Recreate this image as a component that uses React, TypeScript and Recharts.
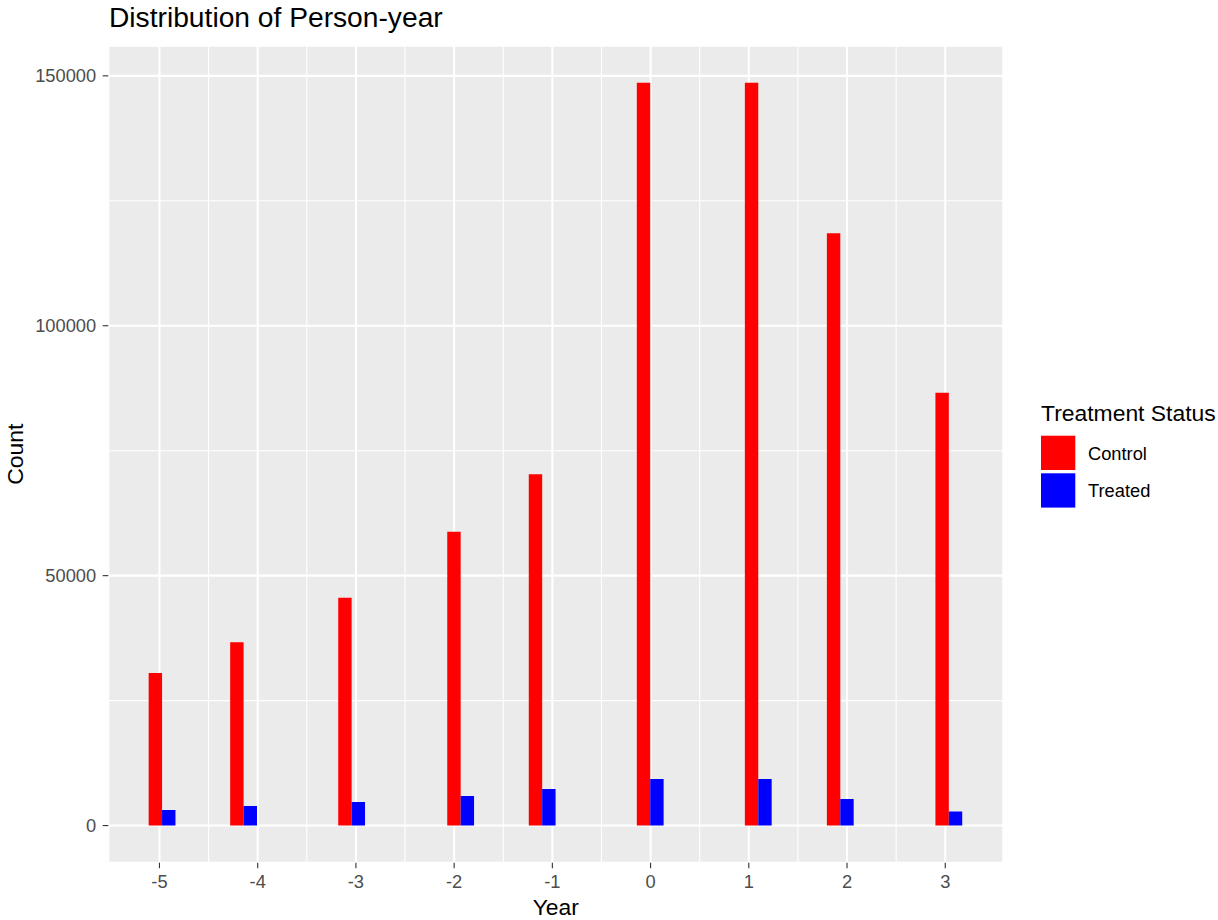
import React from 'react';
import { BarChart, Bar, XAxis, YAxis, CartesianGrid } from 'recharts';

// Year positions (bar group centres as drawn on the continuous Year axis)
const yearPositions = [-4.97, -4.14, -3.04, -1.93, -1.1, 0, 1.1, 1.935, 3.04];
const controlCounts = [30500, 36700, 45600, 58800, 70300, 148600, 148600, 118500, 86600];
const treatedCounts = [3100, 3900, 4700, 5900, 7300, 9300, 9300, 5300, 2800];

const xTicks = [-5, -4, -3, -2, -1, 0, 1, 2, 3];
const yTicks = [0, 50000, 100000, 150000];
const xMinorBreaks = [-4.5, -3.5, -2.5, -1.5, -0.5, 0.5, 1.5, 2.5];
const yMinorBreaks = [25000, 75000, 125000];

const xDomain: [number, number] = [-5.521, 3.591];
const yDomain: [number, number] = [-7430, 156030];

const seriesNames = ['Control', 'Treated'];
const seriesColors = ['#FF0000', '#0000FF'];

const data = yearPositions.map((x, i) => ({
  x,
  Control: controlCounts[i],
  Treated: treatedCounts[i],
}));

const FONT = "'Liberation Sans', Arial, Helvetica, sans-serif";

function scaleOf(axis: any, domain: [number, number], start: number, length: number, invert: boolean) {
  if (axis && typeof axis.scale === 'function') return (v: number) => axis.scale(v);
  return (v: number) => {
    const t = (v - domain[0]) / (domain[1] - domain[0]);
    return invert ? start + length * (1 - t) : start + length * t;
  };
}

export default function App() {
  return (
    <div
      style={{
        position: 'absolute',
        left: 0,
        top: 0,
        width: 1218,
        height: 920,
        background: '#FFFFFF',
        fontFamily: FONT,
      }}
    >
      <BarChart
        width={1218}
        height={920}
        data={data}
        margin={{ top: 45.7, right: 214.7, bottom: 27.3, left: 8.3 }}
        barSize={13.4}
        barGap={0}
      >
        <CartesianGrid
          fill="#EBEBEB"
          fillOpacity={1}
          stroke="#FFFFFF"
          strokeWidth={1.1}
          horizontalCoordinatesGenerator={(props: any) => {
            const s = scaleOf(props.yAxis, yDomain, props.offset.top, props.offset.height, true);
            return yMinorBreaks.map((v) => s(v));
          }}
          verticalCoordinatesGenerator={(props: any) => {
            const s = scaleOf(props.xAxis, xDomain, props.offset.left, props.offset.width, false);
            return xMinorBreaks.map((v) => s(v));
          }}
        />
        <CartesianGrid stroke="#FFFFFF" strokeWidth={2.1} />
        <XAxis
          dataKey="x"
          type="number"
          domain={xDomain}
          ticks={xTicks}
          interval={0}
          allowDataOverflow
          axisLine={false}
          tickLine={{ stroke: '#333333', strokeWidth: 1.1 }}
          tickSize={5.5}
          tickMargin={6.8}
          height={30}
          tick={{ fill: '#4D4D4D', fontSize: 18.3, fontFamily: FONT }}
        />
        <YAxis
          type="number"
          domain={yDomain}
          ticks={yTicks}
          interval={0}
          allowDataOverflow
          axisLine={false}
          tickLine={{ stroke: '#333333', strokeWidth: 1.1 }}
          tickSize={5.6}
          tickMargin={6.5}
          width={100}
          tick={{ fill: '#4D4D4D', fontSize: 18.3, fontFamily: FONT }}
        />
        <Bar dataKey="Control" fill={seriesColors[0]} isAnimationActive={false} />
        <Bar dataKey="Treated" fill={seriesColors[1]} isAnimationActive={false} />
      </BarChart>
      <svg
        width={1218}
        height={920}
        style={{ position: 'absolute', left: 0, top: 0, pointerEvents: 'none' }}
      >
        <text x={109} y={26.7} fontSize={28.2} fontFamily={FONT} fill="#000000">
          Distribution of Person-year
        </text>
        <text
          transform="translate(23.3, 454.2) rotate(-90)"
          textAnchor="middle"
          fontSize={22.9}
          fontFamily={FONT}
          fill="#000000"
        >
          Count
        </text>
        <text x={555.8} y={914.5} textAnchor="middle" fontSize={22.9} fontFamily={FONT} fill="#000000">
          Year
        </text>
        <text x={1041} y={421} fontSize={22.9} fontFamily={FONT} fill="#000000">
          Treatment Status
        </text>
        {seriesNames.map((name, i) => (
          <g key={name}>
            <rect x={1041} y={435.7 + i * 37.6} width={34.3} height={34.3} fill={seriesColors[i]} />
            <text
              x={1088}
              y={459.5 + i * 37.6}
              fontSize={18.3}
              fontFamily={FONT}
              fill="#000000"
            >
              {name}
            </text>
          </g>
        ))}
      </svg>
    </div>
  );
}
